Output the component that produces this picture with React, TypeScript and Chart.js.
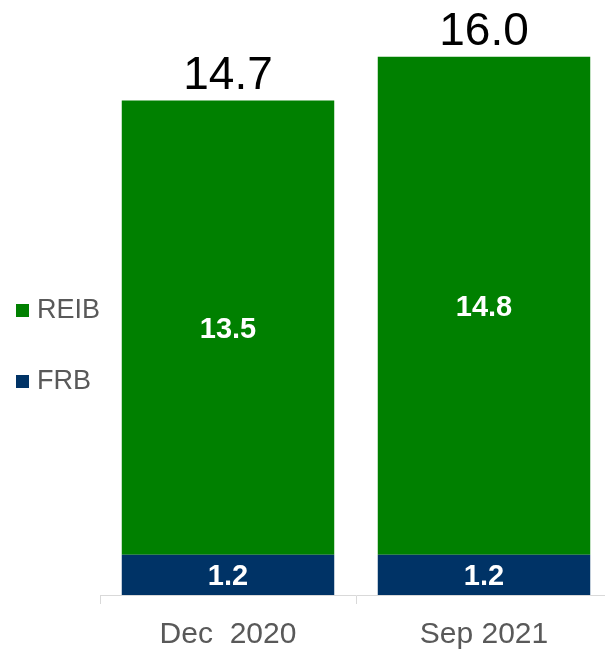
import React, { useEffect, useRef } from "react";
import { Chart, registerables } from "chart.js";

Chart.register(...registerables);

const categories = ["Dec  2020", "Sep 2021"];
const frbValues = [1.2, 1.2];
const reibValues = [13.5, 14.8];
const totalValues = [14.7, 16.0];
const seriesNames = ["FRB", "REIB"];
const seriesColors = ["#003366", "#008000"];

const FONT = "'Liberation Sans', Arial, sans-serif";

const labelsPlugin = {
  id: "valueLabels",
  afterDatasetsDraw(chart: any) {
    const ctx = chart.ctx;
    ctx.save();
    ctx.textAlign = "center";
    chart.data.datasets.forEach((ds: any, di: number) => {
      const meta = chart.getDatasetMeta(di);
      meta.data.forEach((bar: any, i: number) => {
        const v = ds.data[i];
        const cy = (bar.y + bar.base) / 2;
        ctx.fillStyle = "#ffffff";
        ctx.font = `bold 29px ${FONT}`;
        ctx.textBaseline = "middle";
        ctx.fillText(v.toFixed(1), bar.x, cy + 2);
      });
    });
    const topMeta = chart.getDatasetMeta(chart.data.datasets.length - 1);
    topMeta.data.forEach((bar: any, i: number) => {
      ctx.fillStyle = "#000000";
      ctx.font = `46px ${FONT}`;
      ctx.textBaseline = "alphabetic";
      ctx.fillText(totalValues[i].toFixed(1), bar.x, bar.y - 12);
    });
    ctx.restore();
  },
};

const legendPlugin = {
  id: "sideLegend",
  afterDraw(chart: any) {
    const ctx = chart.ctx;
    const ds = chart.data.datasets;
    const ys = [310, 381];
    ctx.save();
    ctx.font = `27px ${FONT}`;
    ctx.textBaseline = "middle";
    ctx.textAlign = "left";
    const order = ds.map((_: any, i: number) => i).reverse();
    order.forEach((di: number, k: number) => {
      const y = ys[k];
      ctx.fillStyle = ds[di].backgroundColor;
      ctx.fillRect(16, y - 6, 13, 13);
      ctx.fillStyle = "#595959";
      ctx.fillText(ds[di].label, 37, y + 1);
    });
    ctx.restore();
  },
};

export default function App() {
  const canvasRef = useRef<HTMLCanvasElement | null>(null);

  useEffect(() => {
    if (!canvasRef.current) return;
    const chart = new Chart(canvasRef.current, {
      type: "bar",
      data: {
        labels: categories,
        datasets: [
          {
            label: seriesNames[0],
            data: frbValues,
            backgroundColor: seriesColors[0],
            barPercentage: 0.83,
            categoryPercentage: 1,
          },
          {
            label: seriesNames[1],
            data: reibValues,
            backgroundColor: seriesColors[1],
            barPercentage: 0.83,
            categoryPercentage: 1,
          },
        ],
      },
      options: {
        animation: false,
        responsive: true,
        maintainAspectRatio: false,
        layout: { padding: { left: 100, right: 0, top: 0, bottom: 0 } },
        plugins: {
          legend: { display: false },
          tooltip: { enabled: false },
        },
        scales: {
          x: {
            stacked: true,
            offset: true,
            grid: {
              display: true,
              drawOnChartArea: false,
              drawTicks: true,
              tickLength: 9,
              color: "#d9d9d9",
              offset: true,
            },
            border: { display: true, color: "#d9d9d9" },
            ticks: {
              color: "#595959",
              font: { family: FONT, size: 30 },
              padding: 13,
            },
          },
          y: {
            stacked: true,
            display: false,
            min: 0,
            max: 17.69,
          },
        },
      },
      plugins: [labelsPlugin, legendPlugin],
    });
    return () => chart.destroy();
  }, []);

  return (
    <div
      style={{
        position: "fixed",
        left: 0,
        top: 0,
        width: 605,
        height: 651,
        overflow: "hidden",
        background: "#ffffff",
      }}
    >
      <div style={{ position: "relative", width: 612, height: 666 }}>
        <canvas ref={canvasRef} />
      </div>
    </div>
  );
}
